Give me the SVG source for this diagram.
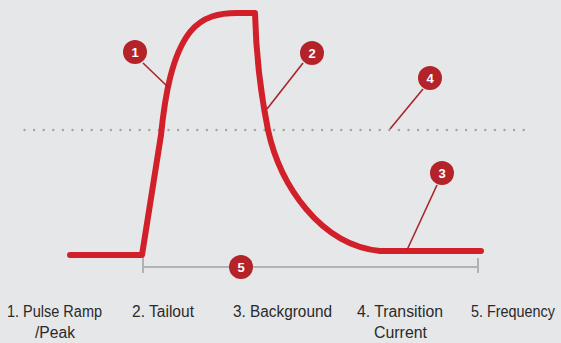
<svg xmlns="http://www.w3.org/2000/svg" width="561" height="343" viewBox="0 0 561 343">
<style>
.curve{fill:none;stroke:#d2202a;stroke-width:6;stroke-linecap:round;stroke-linejoin:round}
.leader{stroke:#a8262b;stroke-width:1.6;fill:none}
.badge circle{fill:#b4232a}
.badge text{fill:#fff;font-family:"Liberation Sans",Arial,sans-serif;font-weight:bold;font-size:13px;text-anchor:middle}
.lbl{fill:#2a2a2a;font-family:"Liberation Sans",Arial,sans-serif;font-size:16px;text-anchor:middle}
.br{stroke:#b2b2b2;stroke-width:2;fill:none}
</style>
<defs>
<linearGradient id="base" x1="0" x2="1" y1="0" y2="0">
<stop offset="0" stop-color="#e6e7e9"/>
<stop offset="0.1" stop-color="#666"/>
<stop offset="0.35" stop-color="#222"/>
<stop offset="0.65" stop-color="#888"/>
<stop offset="1" stop-color="#999"/>
</linearGradient>
</defs>
<rect width="561" height="343" fill="#e6e7e9"/>
<line id="baseline" x1="24" y1="276" x2="526" y2="276" stroke="url(#base)" stroke-width="1.3"/>
<line id="transition-level" x1="24.5" y1="130" x2="526" y2="130" stroke="#a3a3a3" stroke-width="2.4" stroke-linecap="round" stroke-dasharray="0 9.6"/>
<g id="bracket">
<line class="br" x1="143" y1="267" x2="478" y2="267"/>
<line class="br" x1="143" y1="258" x2="143" y2="273"/>
<line class="br" x1="478" y1="258" x2="478" y2="273"/>
</g>
<g id="pulse">
<path class="curve" d="M70,255 L142,255 L161,135 C165,95 172,55 190,32 C203,16 220,13 237,13 L255,13 C256,55 262,100 268,130 C280,185 320,245 380,251 L481,251"/>
</g>
<g id="connectors">
<line class="leader" x1="143" y1="63" x2="169" y2="88"/>
<line class="leader" x1="303" y1="63" x2="267" y2="109"/>
<line class="leader" x1="423" y1="89" x2="390" y2="129"/>
<line class="leader" x1="437" y1="185" x2="407" y2="250"/>
</g>
<g id="badge1" class="badge"><circle cx="135" cy="52" r="12"/><text x="135" y="57">1</text></g>
<g id="badge2" class="badge"><circle cx="312" cy="53" r="12"/><text x="312" y="58">2</text></g>
<g id="badge4" class="badge"><circle cx="430" cy="78" r="12"/><text x="430" y="83">4</text></g>
<g id="badge3" class="badge"><circle cx="442" cy="173" r="12"/><text x="442" y="178">3</text></g>
<g id="badge5" class="badge"><circle cx="241" cy="267" r="12"/><text x="241" y="272">5</text></g>
<g id="labels">
<text class="lbl" x="54.5" y="317" textLength="95" lengthAdjust="spacingAndGlyphs">1. Pulse Ramp</text>
<text class="lbl" x="55" y="338" textLength="40" lengthAdjust="spacingAndGlyphs">/Peak</text>
<text class="lbl" x="163" y="317" textLength="62" lengthAdjust="spacingAndGlyphs">2. Tailout</text>
<text class="lbl" x="282.5" y="317" textLength="99" lengthAdjust="spacingAndGlyphs">3. Background</text>
<text class="lbl" x="400" y="317" textLength="86" lengthAdjust="spacingAndGlyphs">4. Transition</text>
<text class="lbl" x="400.5" y="338" textLength="53" lengthAdjust="spacingAndGlyphs">Current</text>
<text class="lbl" x="513" y="317" textLength="84" lengthAdjust="spacingAndGlyphs">5. Frequency</text>
</g>
</svg>
